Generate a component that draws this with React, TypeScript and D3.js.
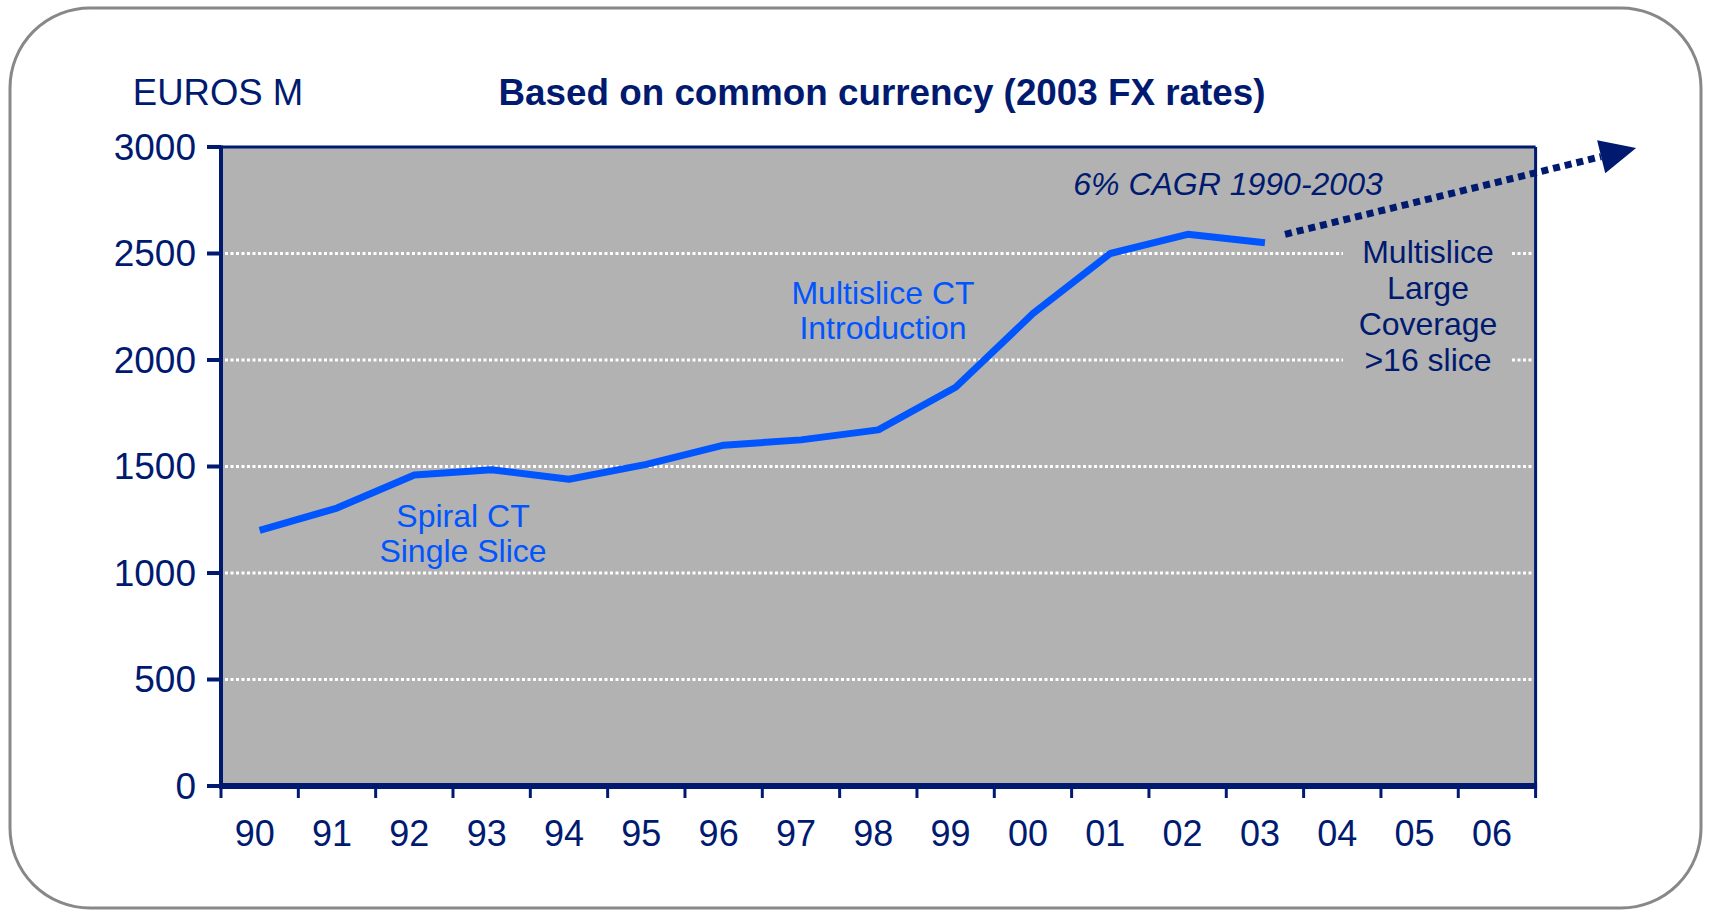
import React from "react";
import * as d3 from "d3";

const years = ["90", "91", "92", "93", "94", "95", "96", "97", "98", "99", "00", "01", "02", "03", "04", "05", "06"];
const salesYears = ["90", "91", "92", "93", "94", "95", "96", "97", "98", "99", "00", "01", "02", "03"];
const sales = [1200, 1305, 1460, 1485, 1440, 1510, 1600, 1625, 1672, 1872, 2218, 2500, 2590, 2550];
const yTicks = [0, 500, 1000, 1500, 2000, 2500, 3000];
const gridValues = [500, 1000, 1500, 2000, 2500];
// trend arrow, in band-index / value units
const trendStart = { t: 13.76, v: 2590 };
const trendEnd = { t: 18.3, v: 2995 };

const NAVY = "#001a70";
const BLUE = "#0055ff";
const FONT = "'Liberation Sans', Arial, Helvetica, sans-serif";

export default function App() {
  const width = 1710;
  const height = 912;
  const left = 221;
  const right = 1535.6;
  const top = 147;
  const bottom = 786;

  const x = d3.scaleBand().domain(years).range([left, right]).padding(0);
  const xi = d3.scaleLinear().domain([0, years.length]).range([left, right]);
  const y = d3.scaleLinear().domain([0, 3000]).range([bottom, top]);
  const bw = x.bandwidth();

  const line = d3
    .line<number>()
    .x((_, i) => (x(salesYears[i]) as number) + bw / 2)
    .y((d) => y(d));

  const sx = xi(trendStart.t);
  const sy = y(trendStart.v);
  const ex = xi(trendEnd.t);
  const ey = y(trendEnd.v);
  const ang = Math.atan2(ey - sy, ex - sx);
  const headLen = 36;
  const headW = 17;
  const bx = ex - headLen * Math.cos(ang);
  const by = ey - headLen * Math.sin(ang);
  const nx = -Math.sin(ang);
  const ny = Math.cos(ang);
  const head = `M${ex},${ey} L${bx + nx * headW},${by + ny * headW} L${bx - nx * headW},${by - ny * headW} Z`;

  return (
    <svg
      width={width}
      height={height}
      viewBox={`0 0 ${width} ${height}`}
      style={{ position: "absolute", left: 0, top: 0, background: "#fff" }}
      fontFamily={FONT}
    >
      <rect x={10} y={8} width={1691} height={900} rx={80} ry={80} fill="#fff" stroke="#888" strokeWidth={3} />

      <text x={218} y={92} textAnchor="middle" dominantBaseline="central" fontSize={36.5} fill={NAVY}>
        EUROS M
      </text>
      <text x={882} y={92} textAnchor="middle" dominantBaseline="central" fontSize={36.8} fontWeight="bold" fill={NAVY}>
        Based on common currency (2003 FX rates)
      </text>

      <rect x={left} y={top} width={right - left} height={bottom - top} fill="#b2b2b2" />

      {gridValues.map((v) => (
        <line
          key={v}
          x1={left + 4}
          x2={right - 2}
          y1={y(v)}
          y2={y(v)}
          stroke="#fff"
          strokeWidth={3}
          strokeDasharray="3,2.5"
        />
      ))}

      {/* background behind right-hand note */}
      <rect x={1343} y={232} width={169} height={146} fill="#b2b2b2" />

      <path d={line(sales) ?? ""} fill="none" stroke={BLUE} strokeWidth={7} strokeLinejoin="bevel" />

      <line x1={sx} y1={sy} x2={bx} y2={by} stroke={NAVY} strokeWidth={7} strokeDasharray="7,5" />
      <path d={head} fill={NAVY} />

      {/* frame */}
      <line x1={left} x2={right} y1={top} y2={top} stroke={NAVY} strokeWidth={3} />
      <line x1={right} x2={right} y1={top} y2={bottom} stroke={NAVY} strokeWidth={3} />
      <line x1={left} x2={left} y1={top - 1.5} y2={bottom + 3} stroke={NAVY} strokeWidth={4} />
      <line x1={left - 2} x2={right + 1.5} y1={bottom} y2={bottom} stroke={NAVY} strokeWidth={6} />

      {yTicks.map((v) => (
        <g key={v}>
          <line x1={left - 14} x2={left} y1={y(v)} y2={y(v)} stroke={NAVY} strokeWidth={4} />
          <text x={196} y={y(v)} textAnchor="end" dominantBaseline="central" fontSize={37} fill={NAVY}>
            {v}
          </text>
        </g>
      ))}

      {d3.range(years.length + 1).map((i) => (
        <line key={i} x1={xi(i)} x2={xi(i)} y1={bottom} y2={bottom + 12} stroke={NAVY} strokeWidth={3} />
      ))}
      {years.map((yr) => (
        <text
          key={yr}
          x={(x(yr) as number) + bw / 2 - 5}
          y={833}
          textAnchor="middle"
          dominantBaseline="central"
          fontSize={36}
          fill={NAVY}
        >
          {yr}
        </text>
      ))}

      <text x={1228} y={184} textAnchor="middle" dominantBaseline="central" fontSize={32} fontStyle="italic" fill={NAVY}>
        6% CAGR 1990-2003
      </text>

      <g fontSize={32} fill={NAVY} textAnchor="middle">
        {["Multislice", "Large", "Coverage", ">16 slice"].map((s, i) => (
          <text key={s} x={1428} y={252 + i * 36} dominantBaseline="central">
            {s}
          </text>
        ))}
      </g>

      <g fontSize={32} fill={BLUE} textAnchor="middle">
        <text x={883} y={293} dominantBaseline="central">Multislice CT</text>
        <text x={883} y={328} dominantBaseline="central">Introduction</text>
        <text x={463} y={516} dominantBaseline="central">Spiral CT</text>
        <text x={463} y={551} dominantBaseline="central">Single Slice</text>
      </g>
    </svg>
  );
}
